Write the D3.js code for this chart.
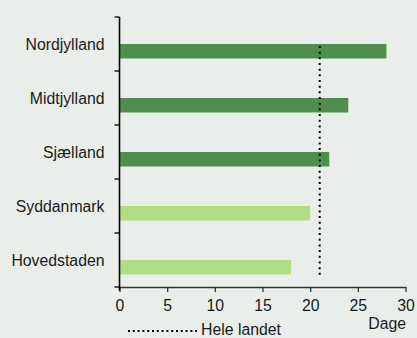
<!DOCTYPE html>
<html>
<head>
<meta charset="utf-8">
<script src="https://cdn.jsdelivr.net/npm/d3@7"></script>
<style>
  html, body { margin: 0; padding: 0; background: #e9eeeb; }
  svg { display: block; font-family: "Liberation Sans", Arial, sans-serif; }
</style>
</head>
<body>
<svg id="chart" width="417" height="338"></svg>
<script>
// Regions and waiting time in days
const regions = ["Nordjylland", "Midtjylland", "Sjælland", "Syddanmark", "Hovedstaden"];
const days = [28, 24, 22, 20, 18];
const aboveAverage = [true, true, true, false, false];
const nationalAverage = 21;
const xTicks = [0, 5, 10, 15, 20, 25, 30];
const axisTitle = "Dage";
const legendLabel = "Hele landet";

const W = 417, H = 338;
const margin = { left: 119.5, right: 11.5, top: 17, bottom: 51 };
const svg = d3.select("#chart");

const x = d3.scaleLinear().domain([0, 30]).range([margin.left, W - margin.right]);
const y = d3.scaleBand().domain(regions).range([margin.top, H - margin.bottom]).padding(0);
const barH = 14.5;
const fontSize = "15.8px";
const textColor = "#1a1a1a";

// Bars start at the middle of each band
svg.append("g").selectAll("rect")
  .data(regions)
  .join("rect")
  .attr("x", x(0))
  .attr("y", d => y(d) + y.bandwidth() / 2)
  .attr("width", (d, i) => x(days[i]) - x(0))
  .attr("height", barH)
  .attr("fill", (d, i) => aboveAverage[i] ? "#4f8e4c" : "#b0dc86");

// National average line
svg.append("line")
  .attr("x1", x(nationalAverage)).attr("x2", x(nationalAverage))
  .attr("y1", y(regions[0]) + y.bandwidth() / 2 + 2)
  .attr("y2", y(regions[regions.length - 1]) + y.bandwidth() / 2 + 18)
  .attr("stroke", "#000")
  .attr("stroke-width", 2)
  .attr("stroke-dasharray", "2,3.67");

// X axis
const xAxis = svg.append("g")
  .attr("transform", `translate(0,${H - margin.bottom})`)
  .call(d3.axisBottom(x).tickValues(xTicks).tickSize(5).tickSizeOuter(0).tickPadding(8));
xAxis.select(".domain").attr("stroke", "#333").attr("stroke-width", 1.5);
xAxis.selectAll(".tick line").attr("stroke", "#333").attr("stroke-width", 1.3);
xAxis.selectAll("text").attr("font-size", fontSize).attr("fill", textColor).attr("font-family", "Liberation Sans, Arial, sans-serif");

// Y axis line with ticks at band boundaries
const yAxis = svg.append("g");
const bounds = regions.map(r => y(r)).concat([y.range()[1]]);
yAxis.append("line")
  .attr("x1", x(0)).attr("x2", x(0))
  .attr("y1", y.range()[0]).attr("y2", y.range()[1] + 3.5)
  .attr("stroke", "#000").attr("stroke-width", 1.6);
yAxis.selectAll("line.tk")
  .data(bounds)
  .join("line")
  .attr("class", "tk")
  .attr("x1", x(0) - 5).attr("x2", x(0))
  .attr("y1", d => d).attr("y2", d => d)
  .attr("stroke", "#000").attr("stroke-width", 1.3);

yAxis.selectAll("text")
  .data(regions)
  .join("text")
  .attr("x", x(0) - 15)
  .attr("y", d => y(d) + y.bandwidth() / 2)
  .attr("dy", "0.38em")
  .attr("text-anchor", "end")
  .attr("font-size", fontSize)
  .attr("fill", textColor)
  .text(d => d);

// Axis title
svg.append("text")
  .attr("x", W - margin.right + 0.5)
  .attr("y", 328.5)
  .attr("text-anchor", "end")
  .attr("font-size", fontSize)
  .attr("fill", textColor)
  .text(axisTitle);

// Legend
const legend = svg.append("g");
legend.append("line")
  .attr("x1", 128).attr("x2", 197)
  .attr("y1", 331).attr("y2", 331)
  .attr("stroke", "#000")
  .attr("stroke-width", 2)
  .attr("stroke-dasharray", "2,2.8");
legend.append("text")
  .attr("x", 201)
  .attr("y", 334.5)
  .attr("font-size", fontSize)
  .attr("fill", textColor)
  .text(legendLabel);
</script>
</body>
</html>
